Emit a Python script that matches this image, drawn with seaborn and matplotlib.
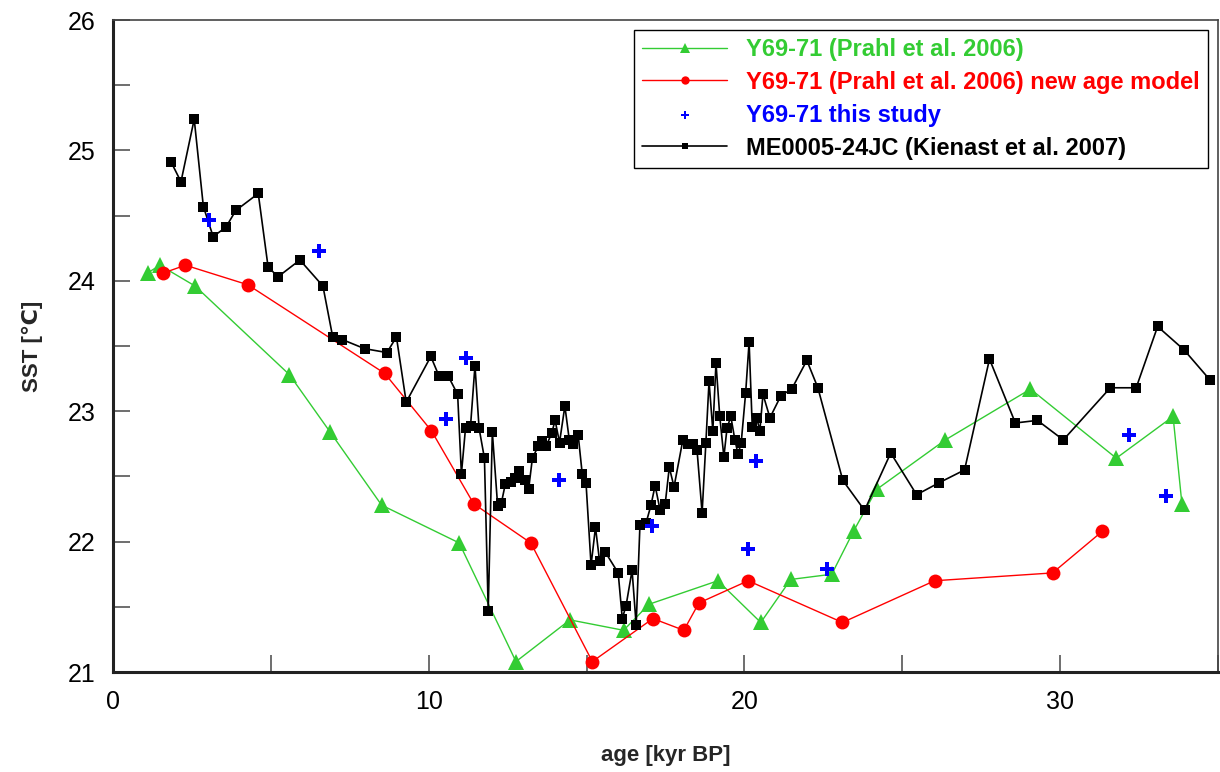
import matplotlib
matplotlib.use("Agg")
import matplotlib.pyplot as plt
import seaborn as sns
import pandas as pd
from matplotlib import font_manager
from matplotlib.ticker import MultipleLocator

# Y69-71 (Prahl et al. 2006)
green_age = [1.08, 1.47, 2.59, 5.58, 6.87, 8.50, 10.96, 12.76, 14.47, 16.17, 16.98,
             19.16, 20.52, 21.47, 22.77, 23.46, 24.19, 26.37, 29.07, 31.79, 33.59, 33.87]
green_sst = [24.06, 24.12, 23.96, 23.28, 22.84, 22.28, 21.99, 21.08, 21.40, 21.32, 21.52,
             21.70, 21.38, 21.71, 21.75, 22.08, 22.40, 22.78, 23.17, 22.64, 22.96, 22.29]

# Y69-71 (Prahl et al. 2006) new age model
red_age = [1.58, 2.28, 4.26, 8.60, 10.08, 11.42, 13.23, 15.18, 17.10, 18.08, 18.56,
           20.12, 23.11, 26.03, 29.77, 31.35]
red_sst = [24.06, 24.12, 23.97, 23.29, 22.85, 22.29, 21.99, 21.08, 21.41, 21.32, 21.53,
           21.70, 21.38, 21.70, 21.76, 22.08]

# Y69-71 this study
blue_age = [3.04, 6.52, 10.54, 11.19, 14.13, 17.08, 20.10, 20.37, 22.62, 32.20, 33.35]
blue_sst = [24.47, 24.23, 22.94, 23.41, 22.47, 22.12, 21.94, 22.62, 21.79, 22.82, 22.35]

# ME0005-24JC (Kienast et al. 2007)
black_age = [1.83, 2.14, 2.56, 2.85, 3.16, 3.56, 3.88, 4.59, 4.90, 5.21, 5.91, 6.64,
             6.95, 7.25, 7.96, 8.67, 8.97, 9.28, 10.06, 10.32, 10.61, 10.91, 11.03, 11.16,
             11.32, 11.46, 11.59, 11.76, 11.88, 12.01, 12.18, 12.30, 12.42, 12.60, 12.74,
             12.86, 13.03, 13.16, 13.28, 13.46, 13.58, 13.71, 13.89, 14.00, 14.14, 14.31,
             14.45, 14.56, 14.73, 14.86, 14.98, 15.14, 15.28, 15.41, 15.59, 16.00, 16.13,
             16.25, 16.44, 16.57, 16.69, 16.88, 17.04, 17.17, 17.33, 17.49, 17.62, 17.77,
             18.05, 18.22, 18.37, 18.50, 18.66, 18.78, 18.88, 19.00, 19.10, 19.22, 19.35,
             19.45, 19.57, 19.70, 19.80, 19.90, 20.04, 20.15, 20.25, 20.39, 20.49, 20.59,
             20.81, 21.16, 21.50, 21.98, 22.33, 23.12, 23.81, 24.64, 25.46, 26.16, 26.98,
             27.77, 28.59, 29.29, 30.11, 31.60, 32.42, 33.10, 33.94, 34.76]
black_sst = [24.91, 24.76, 25.24, 24.57, 24.34, 24.41, 24.54, 24.67, 24.11, 24.03, 24.16,
             23.96, 23.57, 23.55, 23.48, 23.45, 23.57, 23.07, 23.42, 23.27, 23.27, 23.13,
             22.52, 22.87, 22.89, 23.35, 22.87, 22.64, 21.47, 22.84, 22.27, 22.30, 22.44,
             22.46, 22.49, 22.54, 22.47, 22.40, 22.64, 22.73, 22.77, 22.73, 22.83, 22.93,
             22.76, 23.04, 22.78, 22.75, 22.82, 22.52, 22.45, 21.82, 22.11, 21.85, 21.92,
             21.76, 21.41, 21.51, 21.78, 21.36, 22.13, 22.14, 22.28, 22.43, 22.24, 22.29,
             22.57, 22.42, 22.78, 22.75, 22.75, 22.70, 22.22, 22.76, 23.23, 22.85, 23.37,
             22.96, 22.65, 22.87, 22.96, 22.78, 22.67, 22.76, 23.14, 23.53, 22.88, 22.95,
             22.85, 23.13, 22.95, 23.12, 23.17, 23.39, 23.18, 22.47, 22.24, 22.68, 22.36,
             22.45, 22.55, 23.40, 22.91, 22.93, 22.78, 23.18, 23.18, 23.65, 23.47, 23.24]

x_ticks = [0, 10, 20, 30]
y_ticks = [21, 22, 23, 24, 25, 26]

labels = ["Y69-71 (Prahl et al. 2006)",
          "Y69-71 (Prahl et al. 2006) new age model",
          "Y69-71 this study",
          "ME0005-24JC (Kienast et al. 2007)"]
GREEN, RED, BLUE, BLACK = "#33cc33", "#ff0000", "#0000ff", "#000000"

sns.set_theme(style="white")
plt.rcParams["font.family"] = ["Liberation Sans", "DejaVu Sans"]

# narrow face for tick numbers if present
installed = {f.name for f in font_manager.fontManager.ttflist}
tick_family = "Liberation Sans Narrow" if "Liberation Sans Narrow" in installed else "Liberation Sans"
tick_size = 20 if tick_family == "Liberation Sans Narrow" else 18

fig = plt.figure(figsize=(12.2, 7.72), dpi=100)
ax = fig.add_axes([0.093, 0.1295, 0.905, 0.8445])

df_g = pd.DataFrame({"age": green_age, "sst": green_sst})
df_r = pd.DataFrame({"age": red_age, "sst": red_sst})
df_b = pd.DataFrame({"age": blue_age, "sst": blue_sst})
df_k = pd.DataFrame({"age": black_age, "sst": black_sst})

sns.lineplot(data=df_g, x="age", y="sst", ax=ax, color=GREEN, lw=1.0, marker="^",
             markersize=11, markeredgewidth=0, estimator=None, sort=False, label=labels[0])
sns.lineplot(data=df_r, x="age", y="sst", ax=ax, color=RED, lw=1.0, marker="o",
             markersize=10, markeredgewidth=0, estimator=None, sort=False, label=labels[1])
sns.scatterplot(data=df_b, x="age", y="sst", ax=ax, color=BLUE, marker="P", s=110,
                linewidth=0, label=labels[2], zorder=5)
sns.lineplot(data=df_k, x="age", y="sst", ax=ax, color=BLACK, lw=1.2, marker="s",
             markersize=6.5, markeredgewidth=0, estimator=None, sort=False, label=labels[3])

ax.set_xlim(0, 35)
ax.set_ylim(21, 26)
ax.set_xticks(x_ticks)
ax.set_xticklabels([str(t) for t in x_ticks], fontfamily=tick_family, fontsize=tick_size)
ax.set_yticks(y_ticks)
ax.set_yticklabels([str(t) for t in y_ticks], fontfamily=tick_family, fontsize=tick_size)
ax.xaxis.set_minor_locator(MultipleLocator(5))
ax.yaxis.set_minor_locator(MultipleLocator(0.5))
ax.tick_params(which="both", direction="in", length=12, width=1.2, color="#555555",
               bottom=True, left=True, top=False, right=False)
ax.tick_params(which="major", pad=13, labelcolor="black")

for side in ["left", "bottom"]:
    ax.spines[side].set_linewidth(2.2)
    ax.spines[side].set_color("#222222")
for side in ["top", "right"]:
    ax.spines[side].set_linewidth(1.2)
    ax.spines[side].set_color("#444444")

ax.set_xlabel("age [kyr BP]", fontsize=16, fontweight="bold", labelpad=22)
ax.set_ylabel("SST [\u2103]", fontsize=16, fontweight="bold", labelpad=18)

leg = ax.legend(loc="upper right", prop={"weight": "bold", "size": 17},
                frameon=True, fancybox=False, edgecolor="black", framealpha=1,
                handlelength=3.6, labelspacing=0.42, borderaxespad=0.4, markerscale=0.6,
                borderpad=0.35, handletextpad=0.8)
leg.get_frame().set_linewidth(1.0)
for txt, col in zip(leg.get_texts(), [GREEN, RED, BLUE, BLACK]):
    txt.set_color(col)

fig.savefig("out.png", dpi=100, facecolor="white")
